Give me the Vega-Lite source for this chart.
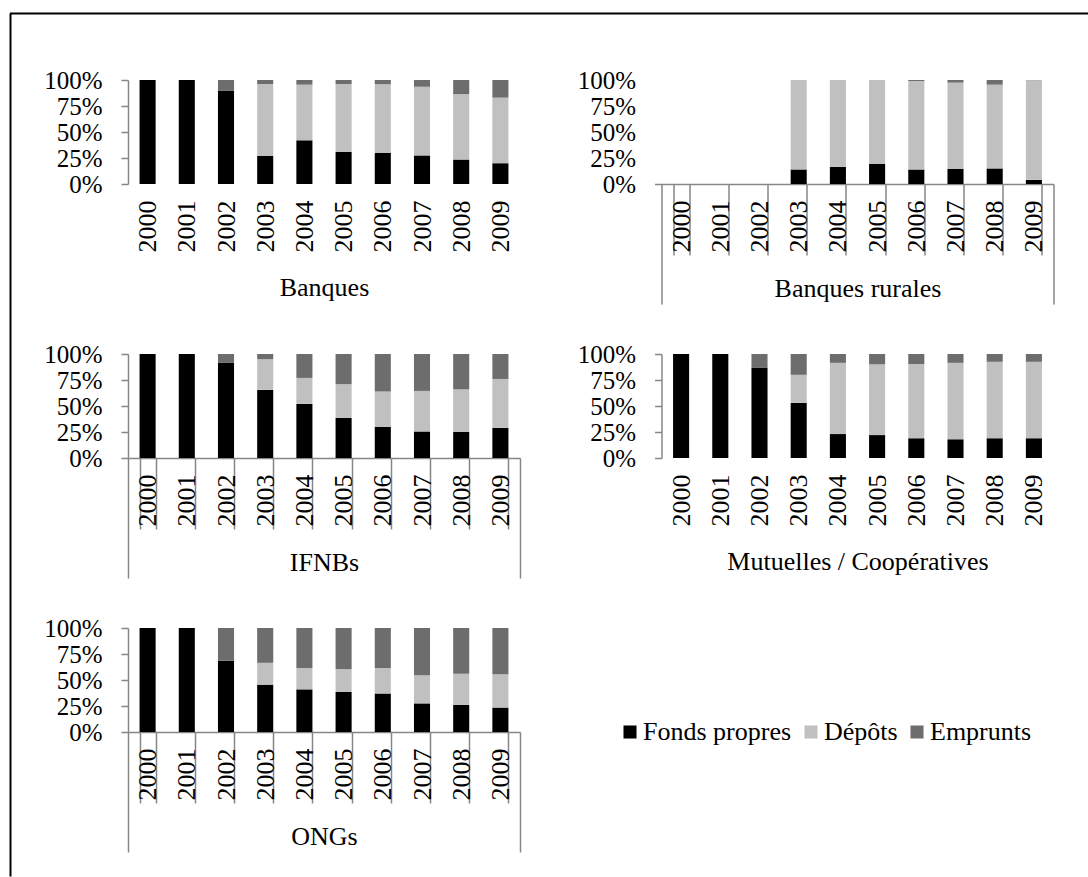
{
  "$schema": "https://vega.github.io/schema/vega-lite/v6.json",
  "background": "white",
  "padding": {"left": 8, "top": 12, "right": 0, "bottom": 0},
  "datasets": {
    "d": [
      {"g": "Banques", "year": "2000", "type": "Fonds propres", "v": 100},
      {"g": "Banques", "year": "2001", "type": "Fonds propres", "v": 100},
      {"g": "Banques", "year": "2002", "type": "Fonds propres", "v": 90},
      {"g": "Banques", "year": "2002", "type": "Emprunts", "v": 10},
      {"g": "Banques", "year": "2003", "type": "Fonds propres", "v": 27},
      {"g": "Banques", "year": "2003", "type": "Dépôts", "v": 69},
      {"g": "Banques", "year": "2003", "type": "Emprunts", "v": 4},
      {"g": "Banques", "year": "2004", "type": "Fonds propres", "v": 42},
      {"g": "Banques", "year": "2004", "type": "Dépôts", "v": 53.5},
      {"g": "Banques", "year": "2004", "type": "Emprunts", "v": 4.5},
      {"g": "Banques", "year": "2005", "type": "Fonds propres", "v": 31},
      {"g": "Banques", "year": "2005", "type": "Dépôts", "v": 65},
      {"g": "Banques", "year": "2005", "type": "Emprunts", "v": 4},
      {"g": "Banques", "year": "2006", "type": "Fonds propres", "v": 30},
      {"g": "Banques", "year": "2006", "type": "Dépôts", "v": 66},
      {"g": "Banques", "year": "2006", "type": "Emprunts", "v": 4},
      {"g": "Banques", "year": "2007", "type": "Fonds propres", "v": 27.5},
      {"g": "Banques", "year": "2007", "type": "Dépôts", "v": 66},
      {"g": "Banques", "year": "2007", "type": "Emprunts", "v": 6.5},
      {"g": "Banques", "year": "2008", "type": "Fonds propres", "v": 23.5},
      {"g": "Banques", "year": "2008", "type": "Dépôts", "v": 63},
      {"g": "Banques", "year": "2008", "type": "Emprunts", "v": 13.5},
      {"g": "Banques", "year": "2009", "type": "Fonds propres", "v": 20},
      {"g": "Banques", "year": "2009", "type": "Dépôts", "v": 63},
      {"g": "Banques", "year": "2009", "type": "Emprunts", "v": 17},

      {"g": "Banques rurales", "year": "2003", "type": "Fonds propres", "v": 14},
      {"g": "Banques rurales", "year": "2003", "type": "Dépôts", "v": 86},
      {"g": "Banques rurales", "year": "2004", "type": "Fonds propres", "v": 16.5},
      {"g": "Banques rurales", "year": "2004", "type": "Dépôts", "v": 83.5},
      {"g": "Banques rurales", "year": "2005", "type": "Fonds propres", "v": 19.5},
      {"g": "Banques rurales", "year": "2005", "type": "Dépôts", "v": 80.5},
      {"g": "Banques rurales", "year": "2006", "type": "Fonds propres", "v": 14},
      {"g": "Banques rurales", "year": "2006", "type": "Dépôts", "v": 85},
      {"g": "Banques rurales", "year": "2006", "type": "Emprunts", "v": 1},
      {"g": "Banques rurales", "year": "2007", "type": "Fonds propres", "v": 14.5},
      {"g": "Banques rurales", "year": "2007", "type": "Dépôts", "v": 83},
      {"g": "Banques rurales", "year": "2007", "type": "Emprunts", "v": 2.5},
      {"g": "Banques rurales", "year": "2008", "type": "Fonds propres", "v": 15},
      {"g": "Banques rurales", "year": "2008", "type": "Dépôts", "v": 80.5},
      {"g": "Banques rurales", "year": "2008", "type": "Emprunts", "v": 4.5},
      {"g": "Banques rurales", "year": "2009", "type": "Fonds propres", "v": 4},
      {"g": "Banques rurales", "year": "2009", "type": "Dépôts", "v": 95.8},
      {"g": "Banques rurales", "year": "2009", "type": "Emprunts", "v": 0.2},

      {"g": "IFNBs", "year": "2000", "type": "Fonds propres", "v": 100},
      {"g": "IFNBs", "year": "2001", "type": "Fonds propres", "v": 100},
      {"g": "IFNBs", "year": "2002", "type": "Fonds propres", "v": 91.5},
      {"g": "IFNBs", "year": "2002", "type": "Emprunts", "v": 8.5},
      {"g": "IFNBs", "year": "2003", "type": "Fonds propres", "v": 65.5},
      {"g": "IFNBs", "year": "2003", "type": "Dépôts", "v": 29.5},
      {"g": "IFNBs", "year": "2003", "type": "Emprunts", "v": 5},
      {"g": "IFNBs", "year": "2004", "type": "Fonds propres", "v": 52},
      {"g": "IFNBs", "year": "2004", "type": "Dépôts", "v": 25},
      {"g": "IFNBs", "year": "2004", "type": "Emprunts", "v": 23},
      {"g": "IFNBs", "year": "2005", "type": "Fonds propres", "v": 38.5},
      {"g": "IFNBs", "year": "2005", "type": "Dépôts", "v": 32.5},
      {"g": "IFNBs", "year": "2005", "type": "Emprunts", "v": 29},
      {"g": "IFNBs", "year": "2006", "type": "Fonds propres", "v": 30},
      {"g": "IFNBs", "year": "2006", "type": "Dépôts", "v": 34},
      {"g": "IFNBs", "year": "2006", "type": "Emprunts", "v": 36},
      {"g": "IFNBs", "year": "2007", "type": "Fonds propres", "v": 25.5},
      {"g": "IFNBs", "year": "2007", "type": "Dépôts", "v": 39},
      {"g": "IFNBs", "year": "2007", "type": "Emprunts", "v": 35.5},
      {"g": "IFNBs", "year": "2008", "type": "Fonds propres", "v": 25},
      {"g": "IFNBs", "year": "2008", "type": "Dépôts", "v": 41},
      {"g": "IFNBs", "year": "2008", "type": "Emprunts", "v": 34},
      {"g": "IFNBs", "year": "2009", "type": "Fonds propres", "v": 29},
      {"g": "IFNBs", "year": "2009", "type": "Dépôts", "v": 47},
      {"g": "IFNBs", "year": "2009", "type": "Emprunts", "v": 24},

      {"g": "Mutuelles / Coopératives", "year": "2000", "type": "Fonds propres", "v": 100},
      {"g": "Mutuelles / Coopératives", "year": "2001", "type": "Fonds propres", "v": 100},
      {"g": "Mutuelles / Coopératives", "year": "2002", "type": "Fonds propres", "v": 87},
      {"g": "Mutuelles / Coopératives", "year": "2002", "type": "Emprunts", "v": 13},
      {"g": "Mutuelles / Coopératives", "year": "2003", "type": "Fonds propres", "v": 53},
      {"g": "Mutuelles / Coopératives", "year": "2003", "type": "Dépôts", "v": 27},
      {"g": "Mutuelles / Coopératives", "year": "2003", "type": "Emprunts", "v": 20},
      {"g": "Mutuelles / Coopératives", "year": "2004", "type": "Fonds propres", "v": 23},
      {"g": "Mutuelles / Coopératives", "year": "2004", "type": "Dépôts", "v": 68.5},
      {"g": "Mutuelles / Coopératives", "year": "2004", "type": "Emprunts", "v": 8.5},
      {"g": "Mutuelles / Coopératives", "year": "2005", "type": "Fonds propres", "v": 22},
      {"g": "Mutuelles / Coopératives", "year": "2005", "type": "Dépôts", "v": 68},
      {"g": "Mutuelles / Coopératives", "year": "2005", "type": "Emprunts", "v": 10},
      {"g": "Mutuelles / Coopératives", "year": "2006", "type": "Fonds propres", "v": 19},
      {"g": "Mutuelles / Coopératives", "year": "2006", "type": "Dépôts", "v": 71.5},
      {"g": "Mutuelles / Coopératives", "year": "2006", "type": "Emprunts", "v": 9.5},
      {"g": "Mutuelles / Coopératives", "year": "2007", "type": "Fonds propres", "v": 18},
      {"g": "Mutuelles / Coopératives", "year": "2007", "type": "Dépôts", "v": 73.5},
      {"g": "Mutuelles / Coopératives", "year": "2007", "type": "Emprunts", "v": 8.5},
      {"g": "Mutuelles / Coopératives", "year": "2008", "type": "Fonds propres", "v": 19},
      {"g": "Mutuelles / Coopératives", "year": "2008", "type": "Dépôts", "v": 73.5},
      {"g": "Mutuelles / Coopératives", "year": "2008", "type": "Emprunts", "v": 7.5},
      {"g": "Mutuelles / Coopératives", "year": "2009", "type": "Fonds propres", "v": 19},
      {"g": "Mutuelles / Coopératives", "year": "2009", "type": "Dépôts", "v": 73.5},
      {"g": "Mutuelles / Coopératives", "year": "2009", "type": "Emprunts", "v": 7.5},

      {"g": "ONGs", "year": "2000", "type": "Fonds propres", "v": 100},
      {"g": "ONGs", "year": "2001", "type": "Fonds propres", "v": 100},
      {"g": "ONGs", "year": "2002", "type": "Fonds propres", "v": 68.5},
      {"g": "ONGs", "year": "2002", "type": "Emprunts", "v": 31.5},
      {"g": "ONGs", "year": "2003", "type": "Fonds propres", "v": 45.5},
      {"g": "ONGs", "year": "2003", "type": "Dépôts", "v": 21},
      {"g": "ONGs", "year": "2003", "type": "Emprunts", "v": 33.5},
      {"g": "ONGs", "year": "2004", "type": "Fonds propres", "v": 41},
      {"g": "ONGs", "year": "2004", "type": "Dépôts", "v": 20.5},
      {"g": "ONGs", "year": "2004", "type": "Emprunts", "v": 38.5},
      {"g": "ONGs", "year": "2005", "type": "Fonds propres", "v": 38.5},
      {"g": "ONGs", "year": "2005", "type": "Dépôts", "v": 22},
      {"g": "ONGs", "year": "2005", "type": "Emprunts", "v": 39.5},
      {"g": "ONGs", "year": "2006", "type": "Fonds propres", "v": 37},
      {"g": "ONGs", "year": "2006", "type": "Dépôts", "v": 24.5},
      {"g": "ONGs", "year": "2006", "type": "Emprunts", "v": 38.5},
      {"g": "ONGs", "year": "2007", "type": "Fonds propres", "v": 27.5},
      {"g": "ONGs", "year": "2007", "type": "Dépôts", "v": 27},
      {"g": "ONGs", "year": "2007", "type": "Emprunts", "v": 45.5},
      {"g": "ONGs", "year": "2008", "type": "Fonds propres", "v": 26},
      {"g": "ONGs", "year": "2008", "type": "Dépôts", "v": 30},
      {"g": "ONGs", "year": "2008", "type": "Emprunts", "v": 44},
      {"g": "ONGs", "year": "2009", "type": "Fonds propres", "v": 23.5},
      {"g": "ONGs", "year": "2009", "type": "Dépôts", "v": 32},
      {"g": "ONGs", "year": "2009", "type": "Emprunts", "v": 44.5}
    ]
  },
  "columns": 2,
  "spacing": {"row": 170, "column": 141.5},
  "bounds": "flush",
  "concat": [
    {
      "width": 392, "height": 104,
      "data": {"name": "d"},
      "transform": [
        {"filter": {"field": "g", "equal": "Banques"}},
        {"calculate": "indexof(['Fonds propres','Dépôts','Emprunts'], datum.type)", "as": "o"}
      ],
      "layer": [
        {
          "mark": {"type": "bar"},
          "encoding": {
            "x": {"field": "year", "type": "ordinal",
              "scale": {"domain": ["2000","2001","2002","2003","2004","2005","2006","2007","2008","2009"], "paddingInner": 0.59, "paddingOuter": 0.295},
              "axis": {"title": "Banques", "labelAngle": -90, "labelOverlap": false, "labelBound": false, "tickBand": "extent", "tickSize": 71, "labelPadding": -55, "titlePadding": 19.5, "domainOpacity": 0, "tickOpacity": 0}},
            "y": {"field": "v", "type": "quantitative", "stack": "normalize", "scale": {"domain": [0, 1]},
              "axis": {"values": [0, 0.25, 0.5, 0.75, 1], "format": ".0%", "title": null, "tickSize": 7, "labelPadding": 19, "labelFontSize": 25}},
            "color": {"field": "type", "type": "nominal",
              "scale": {"domain": ["Fonds propres", "Dépôts", "Emprunts"], "range": ["#000000", "#c0c0c0", "#6d6d6d"]},
              "legend": {"title": null, "orient": "none", "legendX": 489, "legendY": 639, "direction": "horizontal", "symbolType": "square", "symbolSize": 170, "symbolStrokeWidth": 0, "labelFontSize": 26, "labelFont": "Liberation Serif", "labelColor": "#000000", "labelOffset": 0, "columnPadding": 6, "labelLimit": 0}},
            "order": {"field": "o", "type": "quantitative"}
          }
        },
        {
          "mark": {"type": "bar", "opacity": 0},
          "encoding": {
            "x": {"field": "g", "type": "nominal", "scale": {"paddingInner": 0, "paddingOuter": 0},
              "axis": {"orient": "top", "offset": 67, "title": null, "labels": false, "domain": false, "tickSize": -863, "tickOffset": -314.5, "tickColor": "#000000", "tickWidth": 2}},
            "y": {"field": "g", "type": "nominal", "scale": {"paddingInner": 0, "paddingOuter": 0},
              "axis": {"orient": "left", "offset": 118.5, "title": null, "labels": false, "domain": false, "tickSize": -1078, "tickOffset": -119, "tickColor": "#000000", "tickWidth": 2}}
          }
        }
      ],
      "resolve": {"scale": {"x": "independent", "y": "independent"}, "axis": {"x": "independent", "y": "independent"}}
    },
    {
      "width": 392, "height": 104,
      "data": {"name": "d"},
      "transform": [
        {"filter": {"field": "g", "equal": "Banques rurales"}},
        {"calculate": "indexof(['Fonds propres','Dépôts','Emprunts'], datum.type)", "as": "o"}
      ],
      "layer": [
        {
          "mark": {"type": "bar"},
          "encoding": {
            "x": {"field": "year", "type": "ordinal",
              "scale": {"domain": ["2000","2001","2002","2003","2004","2005","2006","2007","2008","2009"], "paddingInner": 0.59, "paddingOuter": 0.295},
              "axis": {"title": "Banques rurales", "labelAngle": -90, "labelOverlap": false, "labelBound": false, "tickBand": "extent", "tickSize": 71, "labelPadding": -55, "titlePadding": 19.5}},
            "y": {"field": "v", "type": "quantitative", "stack": "normalize", "scale": {"domain": [0, 1]},
              "axis": {"values": [0, 0.25, 0.5, 0.75, 1], "format": ".0%", "title": null, "tickSize": 7, "labelPadding": 19, "labelFontSize": 25, "domain": false,
                "tickOpacity": {"condition": {"test": "datum.value == 0", "value": 1}, "value": 0}}},
            "color": {"field": "type", "type": "nominal",
              "scale": {"domain": ["Fonds propres", "Dépôts", "Emprunts"], "range": ["#000000", "#c0c0c0", "#6d6d6d"]},
              "legend": {"title": null, "orient": "none", "legendX": 489, "legendY": 639, "direction": "horizontal", "symbolType": "square", "symbolSize": 170, "symbolStrokeWidth": 0, "labelFontSize": 26, "labelFont": "Liberation Serif", "labelColor": "#000000", "labelOffset": 0, "columnPadding": 6, "labelLimit": 0}},
            "order": {"field": "o", "type": "quantitative"}
          }
        },
        {
          "mark": {"type": "bar", "opacity": 0},
          "encoding": {
            "x": {"field": "g", "type": "nominal", "scale": {"paddingInner": 0, "paddingOuter": 0},
              "axis": {"orient": "bottom", "title": null, "labels": false, "domain": false, "tickBand": "extent", "tickSize": 120}}
          }
        }
      ],
      "resolve": {"scale": {"x": "independent"}, "axis": {"x": "independent"}}
    },
    {
      "width": 392, "height": 104,
      "data": {"name": "d"},
      "transform": [
        {"filter": {"field": "g", "equal": "IFNBs"}},
        {"calculate": "indexof(['Fonds propres','Dépôts','Emprunts'], datum.type)", "as": "o"}
      ],
      "layer": [
        {
          "mark": {"type": "bar"},
          "encoding": {
            "x": {"field": "year", "type": "ordinal",
              "scale": {"domain": ["2000","2001","2002","2003","2004","2005","2006","2007","2008","2009"], "paddingInner": 0.59, "paddingOuter": 0.295},
              "axis": {"title": "IFNBs", "labelAngle": -90, "labelOverlap": false, "labelBound": false, "tickBand": "extent", "tickSize": 71, "labelPadding": -55, "titlePadding": 19.5}},
            "y": {"field": "v", "type": "quantitative", "stack": "normalize", "scale": {"domain": [0, 1]},
              "axis": {"values": [0, 0.25, 0.5, 0.75, 1], "format": ".0%", "title": null, "tickSize": 7, "labelPadding": 19, "labelFontSize": 25}},
            "color": {"field": "type", "type": "nominal",
              "scale": {"domain": ["Fonds propres", "Dépôts", "Emprunts"], "range": ["#000000", "#c0c0c0", "#6d6d6d"]},
              "legend": {"title": null, "orient": "none", "legendX": 489, "legendY": 639, "direction": "horizontal", "symbolType": "square", "symbolSize": 170, "symbolStrokeWidth": 0, "labelFontSize": 26, "labelFont": "Liberation Serif", "labelColor": "#000000", "labelOffset": 0, "columnPadding": 6, "labelLimit": 0}},
            "order": {"field": "o", "type": "quantitative"}
          }
        },
        {
          "mark": {"type": "bar", "opacity": 0},
          "encoding": {
            "x": {"field": "g", "type": "nominal", "scale": {"paddingInner": 0, "paddingOuter": 0},
              "axis": {"orient": "bottom", "title": null, "labels": false, "domain": false, "tickBand": "extent", "tickSize": 120}}
          }
        }
      ],
      "resolve": {"scale": {"x": "independent"}, "axis": {"x": "independent"}}
    },
    {
      "width": 392, "height": 104,
      "data": {"name": "d"},
      "transform": [
        {"filter": {"field": "g", "equal": "Mutuelles / Coopératives"}},
        {"calculate": "indexof(['Fonds propres','Dépôts','Emprunts'], datum.type)", "as": "o"}
      ],
      "mark": {"type": "bar"},
      "encoding": {
        "x": {"field": "year", "type": "ordinal",
          "scale": {"domain": ["2000","2001","2002","2003","2004","2005","2006","2007","2008","2009"], "paddingInner": 0.59, "paddingOuter": 0.295},
          "axis": {"title": "Mutuelles / Coopératives", "labelAngle": -90, "labelOverlap": false, "labelBound": false, "tickBand": "extent", "tickSize": 71, "labelPadding": -55, "titlePadding": 19.5, "domainOpacity": 0, "tickOpacity": 0}},
        "y": {"field": "v", "type": "quantitative", "stack": "normalize", "scale": {"domain": [0, 1]},
          "axis": {"values": [0, 0.25, 0.5, 0.75, 1], "format": ".0%", "title": null, "tickSize": 7, "labelPadding": 19, "labelFontSize": 25}},
        "color": {"field": "type", "type": "nominal",
          "scale": {"domain": ["Fonds propres", "Dépôts", "Emprunts"], "range": ["#000000", "#c0c0c0", "#6d6d6d"]},
          "legend": {"title": null, "orient": "none", "legendX": 489, "legendY": 639, "direction": "horizontal", "symbolType": "square", "symbolSize": 170, "symbolStrokeWidth": 0, "labelFontSize": 26, "labelFont": "Liberation Serif", "labelColor": "#000000", "labelOffset": 0, "columnPadding": 6, "labelLimit": 0}},
        "order": {"field": "o", "type": "quantitative"}
      }
    },
    {
      "width": 392, "height": 104,
      "data": {"name": "d"},
      "transform": [
        {"filter": {"field": "g", "equal": "ONGs"}},
        {"calculate": "indexof(['Fonds propres','Dépôts','Emprunts'], datum.type)", "as": "o"}
      ],
      "layer": [
        {
          "mark": {"type": "bar"},
          "encoding": {
            "x": {"field": "year", "type": "ordinal",
              "scale": {"domain": ["2000","2001","2002","2003","2004","2005","2006","2007","2008","2009"], "paddingInner": 0.59, "paddingOuter": 0.295},
              "axis": {"title": "ONGs", "labelAngle": -90, "labelOverlap": false, "labelBound": false, "tickBand": "extent", "tickSize": 71, "labelPadding": -55, "titlePadding": 19.5}},
            "y": {"field": "v", "type": "quantitative", "stack": "normalize", "scale": {"domain": [0, 1]},
              "axis": {"values": [0, 0.25, 0.5, 0.75, 1], "format": ".0%", "title": null, "tickSize": 7, "labelPadding": 19, "labelFontSize": 25}},
            "color": {"field": "type", "type": "nominal",
              "scale": {"domain": ["Fonds propres", "Dépôts", "Emprunts"], "range": ["#000000", "#c0c0c0", "#6d6d6d"]},
              "legend": {"title": null, "orient": "none", "legendX": 489, "legendY": 639, "direction": "horizontal", "symbolType": "square", "symbolSize": 170, "symbolStrokeWidth": 0, "labelFontSize": 26, "labelFont": "Liberation Serif", "labelColor": "#000000", "labelOffset": 0, "columnPadding": 6, "labelLimit": 0}},
            "order": {"field": "o", "type": "quantitative"}
          }
        },
        {
          "mark": {"type": "bar", "opacity": 0},
          "encoding": {
            "x": {"field": "g", "type": "nominal", "scale": {"paddingInner": 0, "paddingOuter": 0},
              "axis": {"orient": "bottom", "title": null, "labels": false, "domain": false, "tickBand": "extent", "tickSize": 120}}
          }
        }
      ],
      "resolve": {"scale": {"x": "independent"}, "axis": {"x": "independent"}}
    }
  ],
  "config": {
    "font": "Liberation Serif",
    "view": {"stroke": null},
    "axis": {
      "grid": false,
      "labelFont": "Liberation Serif", "labelFontSize": 26, "labelColor": "#000000",
      "titleFont": "Liberation Serif", "titleFontSize": 26, "titleFontWeight": "normal", "titleColor": "#000000",
      "domainColor": "#868686", "tickColor": "#868686", "domainWidth": 1.5, "tickWidth": 1.5
    },
    "legend": {"padding": 0}
  }
}
